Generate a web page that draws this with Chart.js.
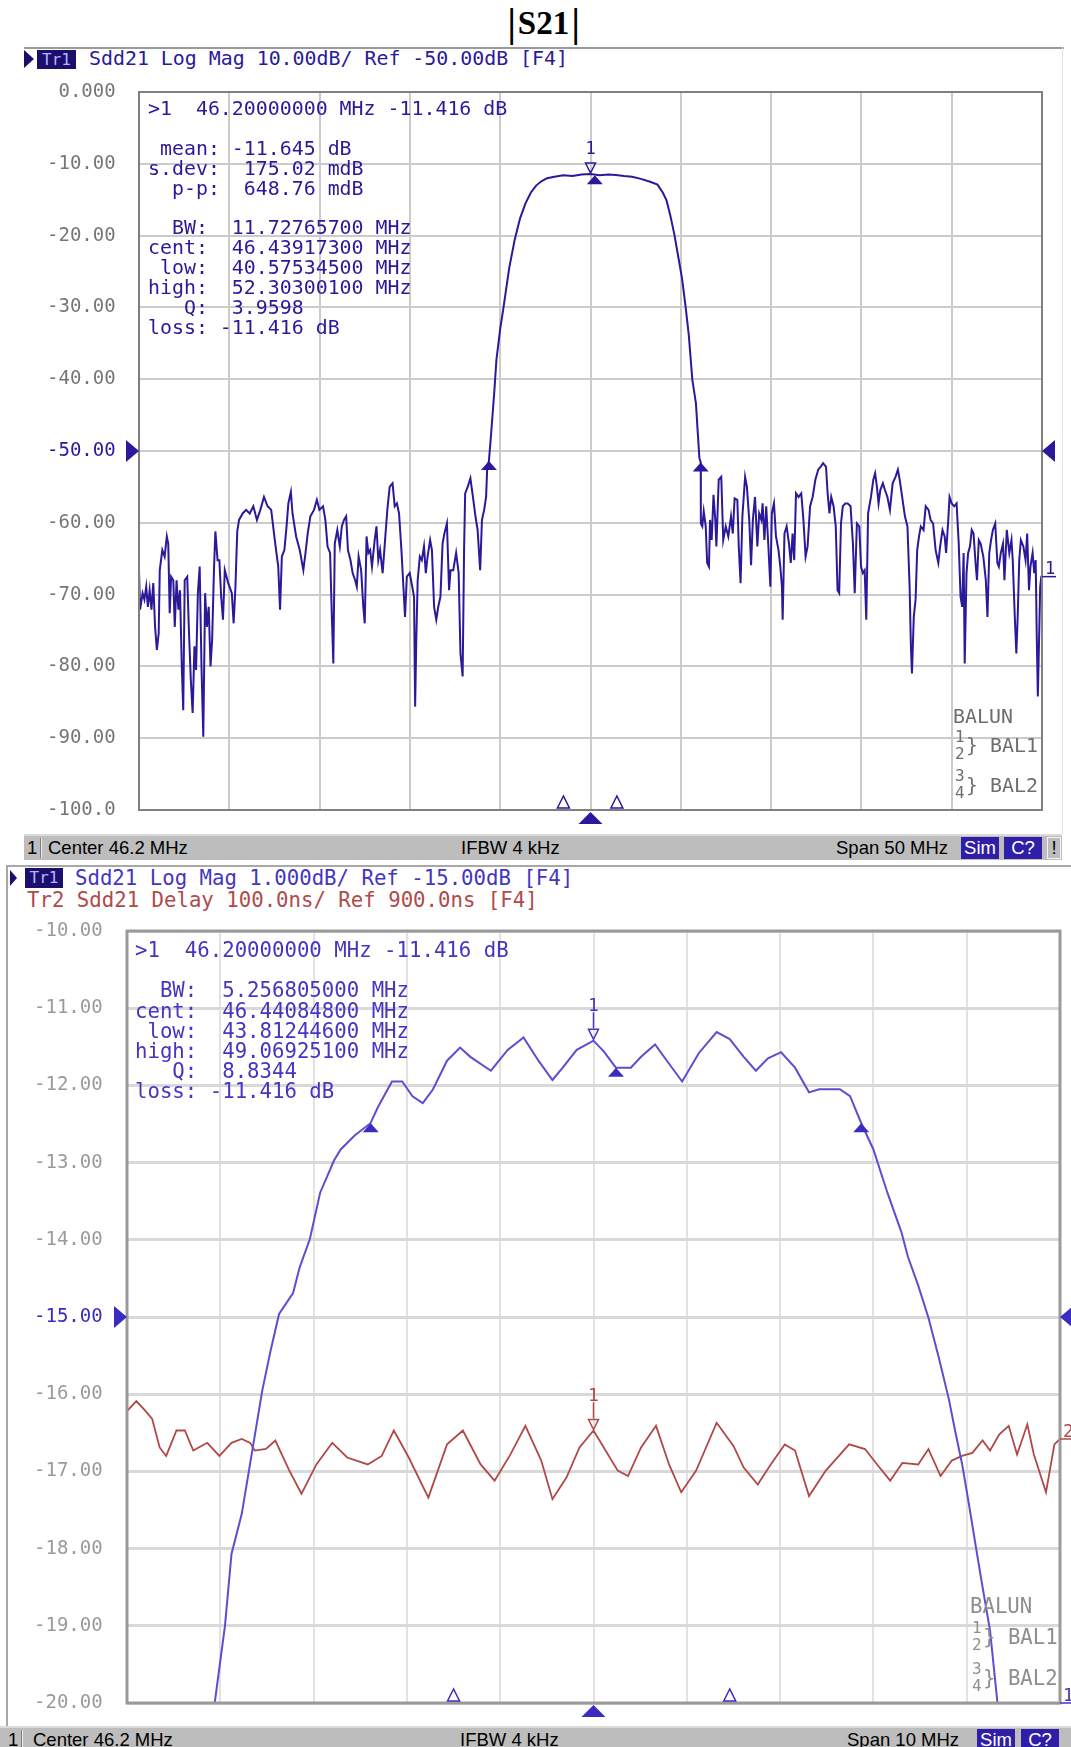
<!DOCTYPE html>
<html>
<head>
<meta charset="utf-8">
<title>|S21|</title>
<script src="https://cdn.jsdelivr.net/npm/chart.js@4.4.1/dist/chart.umd.min.js"></script>
<style>
  body { margin: 0; width: 1071px; height: 1747px; position: relative; overflow: hidden; background: #fff; }
  .abs { position: absolute; }
  .t { position: absolute; white-space: pre; font-family: 'DejaVu Sans Mono', monospace; }
  .top { font-size: 19.9px; line-height: 19.9px; color: #2a1a9a; }
  .bot { font-size: 20.7px; line-height: 20.2px; color: #4436c0; }
  .grayA { color: #6e6e6e; }
  .grayB { color: #8e8e8e; }
  .small { font-size: 16px; line-height: 17px; }
  .bar { position: absolute; background: #bdbdbd; border-top: 2px solid #dadada; overflow: hidden;
         font-family: 'Liberation Sans', Arial, sans-serif; font-size: 18.5px; color: #000; }
  .bar span { position: absolute; white-space: pre; }
  .tag { background: #2f1fa8; color: #fff; text-align: center; }
  .trbox { position: absolute; background: #1b0f6e; color: #b8b4ff; text-align: center;
           font-family: 'DejaVu Sans Mono', monospace; font-size: 16px; }
  .vbar { display: inline-block; transform: scale(1.15, 1.2); margin: 0 3px; }
</style>
</head>
<body>

<div class="abs" id="title" style="left:0;width:1087px;top:3px;text-align:center;font-family:'Liberation Serif',serif;font-weight:bold;font-size:33px;line-height:40px;"><span class="vbar">|</span>S21<span class="vbar">|</span></div>
<div class="abs" style="left:24px;top:47px;width:1040px;height:2px;background:#9a9a9a;"></div>
<div class="abs" style="left:1062px;top:47px;width:1px;height:787px;background:#e2e2e2;"></div>

<!-- header of the wide span trace -->
<div class="abs" style="left:24px;top:50px;width:0;height:0;border-left:10px solid #1b0f6e;border-top:9px solid transparent;border-bottom:9px solid transparent;"></div>
<div class="trbox" style="left:37px;top:50px;width:39px;height:19px;line-height:19px;">Tr1</div>
<div class="t top" style="left:89px;top:49px;">Sdd21 Log Mag 10.00dB/ Ref -50.00dB [F4]</div>

<div class="abs" style="left:24px;top:70px;"><canvas id="topChart" width="1038" height="763"></canvas></div>

<div class="t top" style="left:148px;top:99px;">&gt;1  46.20000000 MHz -11.416 dB

 mean: -11.645 dB
s.dev:  175.02 mdB
  p-p:  648.76 mdB

  BW:  11.72765700 MHz
cent:  46.43917300 MHz
 low:  40.57534500 MHz
high:  52.30300100 MHz
   Q:  3.9598
loss: -11.416 dB</div>

<div class="t top grayA" style="left:953px;top:707px;">BALUN</div>
<div class="t small grayA" style="left:955px;top:728px;">1
2</div>
<div class="t top grayA" style="left:966px;top:736px;">} BAL1</div>
<div class="t small grayA" style="left:955px;top:767px;">3
4</div>
<div class="t top grayA" style="left:966px;top:776px;">} BAL2</div>

<div class="bar" style="left:24px;top:834px;width:1038px;height:24px;line-height:24px;">
  <span style="left:3px;">1</span>
  <span style="left:16px;top:2px;width:1px;height:20px;background:#7a7a7a;border-right:1px solid #eee;"></span>
  <span style="left:24px;">Center 46.2 MHz</span>
  <span style="left:437px;">IFBW 4 kHz</span>
  <span style="left:812px;">Span 50 MHz</span>
  <span class="tag" style="left:937px;top:1px;width:38px;height:22px;line-height:22px;">Sim</span>
  <span class="tag" style="left:980px;top:1px;width:38px;height:22px;line-height:22px;">C?</span>
  <span style="left:1023px;top:1px;width:12px;height:20px;line-height:20px;border:1px solid #f4f4f4;text-align:center;">!</span>
</div>

<!-- zoomed span panel -->
<div class="abs" style="left:6px;top:865px;width:1065px;height:862px;border-left:2px solid #a8a8a8;border-top:2px solid #a8a8a8;"></div>
<div class="abs" style="left:10px;top:870px;width:0;height:0;border-left:7px solid #1b0f6e;border-top:8px solid transparent;border-bottom:8px solid transparent;"></div>
<div class="trbox" style="left:25px;top:868px;width:38px;height:20px;line-height:20px;">Tr1</div>
<div class="t bot" style="left:75px;top:868px;">Sdd21 Log Mag 1.000dB/ Ref -15.00dB [F4]</div>
<div class="t bot" style="left:27px;top:890px;color:#b04a4a;">Tr2 Sdd21 Delay 100.0ns/ Ref 900.0ns [F4]</div>

<div class="abs" style="left:8px;top:915px;"><canvas id="zoomChart" width="1063" height="810"></canvas></div>

<div class="t bot" style="left:135px;top:940px;">&gt;1  46.20000000 MHz -11.416 dB

  BW:  5.256805000 MHz
cent:  46.44084800 MHz
 low:  43.81244600 MHz
high:  49.06925100 MHz
   Q:  8.8344
loss: -11.416 dB</div>

<div class="t bot grayB" style="left:970px;top:1596px;">BALUN</div>
<div class="t small grayB" style="left:972px;top:1619px;">1
2</div>
<div class="t bot grayB" style="left:983px;top:1627px;">} BAL1</div>
<div class="t small grayB" style="left:972px;top:1660px;">3
4</div>
<div class="t bot grayB" style="left:983px;top:1668px;">} BAL2</div>

<div class="bar" style="left:0;top:1726px;width:1071px;height:24px;line-height:24px;">
  <span style="left:8px;">1</span>
  <span style="left:21px;top:2px;width:1px;height:20px;background:#7a7a7a;border-right:1px solid #eee;"></span>
  <span style="left:33px;">Center 46.2 MHz</span>
  <span style="left:460px;">IFBW 4 kHz</span>
  <span style="left:847px;">Span 10 MHz</span>
  <span class="tag" style="left:977px;top:1px;width:38px;height:22px;line-height:22px;">Sim</span>
  <span class="tag" style="left:1021px;top:1px;width:38px;height:22px;line-height:22px;">C?</span>
</div>

<script>
// ---- wide span: Sdd21 log mag, 21.2 .. 71.2 MHz ----
const topCenter = 46.2;
const topSpan = 50;
const topYLabels = [' 0.000', '-10.00', '-20.00', '-30.00', '-40.00', '-50.00', '-60.00', '-70.00', '-80.00', '-90.00', '-100.0'];

const topLowStopFreq = [21.20,21.26,21.40,21.50,21.60,21.69,21.79,21.89,21.99,22.09,
  22.19,22.29,22.35,22.49,22.62,22.74,22.82,22.90,22.98,23.10,
  23.18,23.28,23.38,23.47,23.57,23.65,23.73,23.87,23.97,24.07,
  24.17,24.27,24.36,24.46,24.56,24.66,24.76,24.86,24.96,25.06,
  25.16,25.25,25.35,25.43,25.55,25.65,25.75,25.85,25.95,26.14,
  26.34,26.44,26.54,26.64,26.74,26.94,27.13,27.33,27.53,27.73,
  27.92,28.12,28.32,28.52,28.72,28.81,28.91,29.01,29.11,29.25,
  29.37,29.47,29.61,29.70,29.90,30.10,30.30,30.42,30.54,30.69,
  30.89,31.05,31.19,31.39,31.52,31.64,31.78,31.88,31.96,32.04,
  32.18,32.32,32.43,32.55,32.67,32.77,32.91,33.03,33.17,33.26,
  33.36,33.50,33.62,33.70,33.80,33.90,34.00,34.10,34.25,34.35,
  34.45,34.55,34.69,34.81,34.95,35.08,35.24,35.36,35.48,35.60,
  35.74,35.84,35.93,36.03,36.19,36.33,36.43,36.49,36.55,36.63,
  36.75,36.86,36.98,37.08,37.18,37.32,37.42,37.54,37.66,37.77,
  37.89,38.01,38.11,38.25,38.37,38.45,38.60,38.76,38.90,39.00,
  39.12,39.20,39.26,39.40,39.55,39.69,39.83,39.95,40.09,40.19,
  40.31,40.42,40.48];
const topLowStopGain = [-66.6,-72.1,-69.8,-70.7,-68.9,-71.7,-69.4,-72.1,-68.4,-74.5,
  -77.7,-75.4,-66.6,-63.8,-64.7,-61.9,-62.9,-72.6,-67.5,-68.0,
  -74.5,-68.0,-72.1,-69.4,-80.0,-86.1,-68.0,-67.5,-75.4,-81.9,
  -86.5,-77.2,-80.5,-69.8,-66.1,-80.0,-89.8,-69.8,-74.5,-71.7,
  -80.0,-76.3,-66.6,-61.2,-65.2,-65.2,-70.3,-73.5,-66.6,-68.4,
  -69.8,-74.0,-68.9,-61.2,-59.6,-58.7,-58.2,-58.7,-57.7,-59.6,
  -58.2,-56.4,-57.7,-58.2,-62.4,-64.2,-66.1,-72.1,-64.7,-63.8,
  -60.5,-57.3,-55.7,-58.7,-61.9,-63.8,-66.6,-64.2,-61.5,-59.1,
  -58.2,-56.8,-58.2,-57.7,-59.6,-63.3,-64.2,-73.1,-79.6,-62.9,
  -61.0,-63.3,-60.5,-59.6,-59.1,-63.8,-65.2,-67.0,-68.0,-68.9,
  -64.7,-66.6,-71.7,-74.0,-61.9,-64.2,-63.8,-66.1,-62.4,-60.5,
  -65.2,-63.8,-67.0,-62.9,-58.2,-55.0,-54.5,-57.7,-57.3,-58.7,
  -64.2,-68.9,-73.1,-67.5,-67.0,-68.9,-70.3,-85.6,-76.8,-68.0,
  -64.7,-65.2,-63.3,-67.0,-64.7,-62.4,-63.8,-71.7,-73.5,-71.7,
  -70.3,-62.9,-61.5,-60.1,-69.4,-66.6,-66.6,-64.2,-67.0,-78.2,
  -81.4,-63.8,-55.9,-55.0,-53.8,-56.4,-59.1,-61.0,-66.6,-59.6,
  -58.2,-56.4,-52.4];

const topPassFreq = [40.575,40.70,40.88,40.99,41.20,41.39,41.70,42.00,42.30,42.60,
  42.90,43.20,43.50,43.80,44.20,44.70,45.20,45.70,46.20,46.70,
  47.20,47.60,48.06,48.50,48.99,49.50,49.91,50.20,50.41,50.62,
  50.84,51.05,51.27,51.46,51.64,51.84,52.04,52.13,52.23,52.303];
const topPassGain = [-51.4,-47.5,-41.5,-37.3,-33.0,-29.9,-24.5,-20.6,-17.6,-15.5,
  -14.0,-13.0,-12.4,-12.0,-11.8,-11.6,-11.7,-11.5,-11.42,-11.6,
  -11.5,-11.55,-11.7,-11.8,-12.1,-12.5,-12.9,-14.0,-15.1,-17.2,
  -19.8,-22.8,-26.0,-29.8,-33.8,-40.1,-43.4,-47.1,-51.0,-51.6];

const topHighStopFreq = [52.31,52.39,52.47,52.58,52.66,52.76,52.82,52.91,53.01,53.11,
  53.17,53.30,53.44,53.55,53.69,53.83,53.98,54.08,54.18,54.33,
  54.41,54.51,54.61,54.76,54.86,54.99,55.09,55.19,55.31,55.44,
  55.54,55.66,55.73,55.83,55.93,56.05,56.16,56.24,56.36,56.47,
  56.61,56.71,56.80,56.84,56.94,57.06,57.19,57.29,57.39,57.48,
  57.58,57.72,57.87,57.99,58.11,58.22,58.36,58.50,58.65,58.81,
  58.94,59.08,59.24,59.33,59.43,59.53,59.66,59.78,59.88,59.97,
  60.07,60.17,60.31,60.44,60.60,60.73,60.83,60.95,61.08,61.18,
  61.28,61.38,61.47,61.57,61.73,61.86,61.96,62.06,62.15,62.25,
  62.39,62.50,62.64,62.78,62.93,63.09,63.22,63.32,63.48,63.61,
  63.75,63.87,63.94,64.00,64.10,64.20,64.29,64.39,64.49,64.64,
  64.76,64.92,65.03,65.17,65.31,65.46,65.56,65.69,65.81,65.89,
  66.01,66.08,66.20,66.34,66.47,66.59,66.69,66.78,66.86,66.92,
  67.02,67.11,67.21,67.31,67.41,67.52,67.60,67.70,67.80,67.95,
  68.09,68.18,68.28,68.38,68.48,68.61,68.73,68.81,68.92,69.04,
  69.12,69.25,69.39,69.51,69.58,69.70,69.78,69.86,69.94,70.03,
  70.17,70.29,70.38,70.48,70.56,70.68,70.77,70.85,70.91,70.97,
  71.03,71.10,71.16,71.20];
const topHighStopGain = [-60.1,-60.5,-58.4,-60.5,-65.6,-66.1,-59.6,-62.4,-56.1,-59.6,
  -63.3,-54.0,-53.6,-62.4,-60.5,-61.9,-59.1,-61.5,-56.6,-56.8,
  -63.3,-68.4,-59.1,-53.6,-55.0,-59.6,-65.9,-59.6,-56.4,-63.3,
  -58.7,-59.6,-57.3,-62.4,-57.7,-63.3,-68.9,-58.7,-57.3,-61.9,
  -63.8,-66.1,-68.9,-73.5,-61.5,-60.5,-62.9,-65.6,-61.5,-65.2,
  -55.9,-56.4,-55.9,-59.6,-64.7,-63.3,-57.7,-56.4,-54.0,-52.6,
  -52.2,-51.7,-52.2,-55.9,-58.7,-56.4,-57.7,-60.5,-69.4,-69.8,
  -60.1,-57.7,-57.3,-57.3,-57.7,-62.9,-69.8,-60.1,-60.5,-66.1,
  -67.0,-66.6,-73.5,-58.7,-56.4,-54.0,-53.1,-55.0,-57.3,-55.4,
  -54.5,-55.4,-56.4,-58.2,-54.5,-53.6,-52.6,-54.0,-56.8,-59.1,
  -60.5,-68.9,-77.2,-81.0,-73.1,-70.7,-63.8,-61.9,-60.5,-61.0,
  -57.7,-58.2,-59.6,-60.1,-63.8,-65.6,-63.3,-61.0,-61.9,-64.2,
  -59.6,-56.4,-57.3,-57.7,-57.3,-62.9,-70.3,-71.7,-64.2,-79.6,
  -67.0,-64.2,-63.3,-61.0,-61.5,-65.6,-68.0,-62.4,-62.9,-64.7,
  -68.0,-73.1,-64.2,-62.4,-61.0,-60.1,-65.6,-66.1,-64.2,-62.9,
  -68.0,-61.0,-64.2,-62.4,-65.2,-73.5,-78.2,-72.6,-65.2,-62.4,
  -63.3,-65.2,-61.5,-69.4,-66.1,-64.2,-67.0,-65.2,-75.8,-84.2,
  -77.2,-68.9,-67.5,-67.5];

// bandwidth search markers (low, cent, high) and marker 1
const topSearchFreq = [40.575345, 46.439173, 52.303001];
const topSearchGain = [-51.4, -11.6, -51.6];
const topMarkerFreq = 46.2;
const topMarkerGain = -11.416;

// ---- zoomed span: 41.2 .. 51.2 MHz, log mag + group delay ----
const zoomCenter = 46.2;
const zoomSpan = 10;
const zoomYLabels = ['-10.00', '-11.00', '-12.00', '-13.00', '-14.00', '-15.00', '-16.00', '-17.00', '-18.00', '-19.00', '-20.00'];

const zoomGainFreq = [41.20,42.14,42.25,42.32,42.43,42.54,42.65,42.74,42.83,42.98,
  43.05,43.16,43.27,43.42,43.49,43.64,43.81,43.89,44.04,44.15,
  44.26,44.37,44.48,44.63,44.77,44.88,45.10,45.28,45.45,45.61,
  45.76,45.87,46.02,46.20,46.31,46.44,46.60,46.71,46.86,47.01,
  47.15,47.33,47.52,47.66,47.81,47.94,48.07,48.21,48.36,48.51,
  48.62,48.84,48.95,49.07,49.20,49.35,49.50,49.57,49.68,49.79,
  49.90,50.01,50.08,50.15,50.23,50.30,50.37,50.45,50.53,51.20];
const zoomGain = [-20.0,-20.0,-19.0,-18.07,-17.55,-16.75,-15.95,-15.43,-14.96,-14.69,
  -14.36,-13.99,-13.39,-12.97,-12.83,-12.65,-12.49,-12.28,-11.95,-11.95,
  -12.14,-12.23,-12.05,-11.68,-11.51,-11.63,-11.81,-11.54,-11.38,-11.68,
  -11.93,-11.77,-11.54,-11.42,-11.56,-11.77,-11.77,-11.63,-11.47,-11.72,
  -11.95,-11.58,-11.31,-11.40,-11.63,-11.81,-11.65,-11.57,-11.77,-12.09,
  -12.05,-12.05,-12.14,-12.49,-12.83,-13.39,-13.90,-14.22,-14.59,-15.01,
  -15.52,-16.07,-16.5,-16.9,-17.47,-17.99,-18.5,-19.06,-20.0,-20.0];

// group delay, ns (100 ns/div, 900 ns at the reference line)
const delayRef = 900;
const delayPerDiv = 100;
const delayFreq = [41.20,41.30,41.40,41.47,41.55,41.62,41.73,41.82,41.91,42.06,
  42.19,42.32,42.43,42.52,42.57,42.69,42.79,42.94,43.07,43.23,
  43.40,43.56,43.78,43.93,44.06,44.22,44.43,44.63,44.80,44.99,
  45.14,45.31,45.47,45.64,45.76,45.91,46.05,46.20,46.31,46.46,
  46.57,46.71,46.87,47.01,47.14,47.30,47.52,47.70,47.81,47.96,
  48.10,48.25,48.36,48.51,48.69,48.94,49.11,49.24,49.38,49.51,
  49.68,49.79,49.92,50.04,50.15,50.26,50.37,50.45,50.55,50.65,
  50.74,50.85,50.92,51.05,51.14,51.20];
const delayNs = [778,791,778,768,731,720,753,753,727,737,
  720,737,742,737,727,729,740,701,671,709,
  737,718,709,720,753,718,666,735,753,709,
  688,722,759,714,664,692,731,753,731,701,
  694,731,759,709,673,701,763,733,705,683,
  709,735,727,668,701,735,729,709,688,711,
  709,729,694,714,720,724,740,727,748,759,
  722,761,722,673,735,742];

const zoomSearchFreq = [43.812446, 46.440848, 49.069251];
const zoomSearchGain = [-12.49, -11.77, -12.49];
const zoomMarkerGain = -11.416;
const zoomMarkerDelay = 753;

// stimulus markers shown as open triangles on the bottom edge of both grids
const stimulusFreq = [44.7, 47.66];

function toPoints(xs, ys) {
  return xs.map((x, i) => ({ x: x, y: ys[i] }));
}

function gridTicks(center, span) {
  const start = center - span / 2;
  const ticks = [];
  for (let i = 0; i <= 10; i++) ticks.push({ value: start + i * span / 10 });
  return ticks;
}

function triangle(ctx, x1, y1, x2, y2, x3, y3, fill) {
  ctx.beginPath();
  ctx.moveTo(x1, y1);
  ctx.lineTo(x2, y2);
  ctx.lineTo(x3, y3);
  ctx.closePath();
  if (fill) ctx.fill(); else ctx.stroke();
}

// frame, reference arrows and the analyzer's marker symbols
const vnaMarks = {
  id: 'vnaMarks',
  afterDatasetsDraw(chart, args, o) {
    const { ctx, chartArea: a, scales } = chart;
    const xs = scales.x;
    ctx.save();
    ctx.strokeStyle = o.frameColor;
    ctx.lineWidth = o.frameWidth;
    ctx.strokeRect(a.left, a.top, a.right - a.left, a.bottom - a.top);

    ctx.fillStyle = o.color;
    const ry = scales.y.getPixelForValue(o.refLevel);
    triangle(ctx, a.left - 13, ry - 11, a.left - 13, ry + 11, a.left, ry, true);
    triangle(ctx, a.right + 13, ry - 11, a.right + 13, ry + 11, a.right, ry, true);

    const cx = xs.getPixelForValue(o.center);
    triangle(ctx, cx, a.bottom + 2, cx - 12, a.bottom + 14, cx + 12, a.bottom + 14, true);

    ctx.strokeStyle = o.color;
    ctx.lineWidth = 1.5;
    o.stimulus.forEach(f => {
      const px = xs.getPixelForValue(f);
      triangle(ctx, px, a.bottom - 14, px - 6, a.bottom - 2, px + 6, a.bottom - 2, false);
    });

    o.searchFreq.forEach((f, i) => {
      const px = xs.getPixelForValue(f);
      const py = scales.y.getPixelForValue(o.searchGain[i]);
      triangle(ctx, px, py, px - 8, py + 9, px + 8, py + 9, true);
    });

    ctx.font = o.font;
    ctx.textAlign = 'center';
    ctx.textBaseline = 'middle';
    o.markers.forEach(m => {
      const px = xs.getPixelForValue(m.f);
      const py = scales[m.axis].getPixelForValue(m.v);
      ctx.strokeStyle = m.color;
      ctx.fillStyle = m.color;
      ctx.lineWidth = 1.5;
      if (o.labelOffset > 26) {
        ctx.beginPath();
        ctx.moveTo(px, py - 12);
        ctx.lineTo(px, py - o.labelOffset + 6);
        ctx.stroke();
      }
      triangle(ctx, px, py - 1, px - 5, py - 11, px + 5, py - 11, false);
      ctx.fillText(m.label, px, py - o.labelOffset);
    });

    ctx.textAlign = 'left';
    o.ends.forEach(e => {
      const py = scales[e.axis].getPixelForValue(e.v);
      ctx.fillStyle = e.color;
      ctx.strokeStyle = e.color;
      ctx.lineWidth = 1.5;
      ctx.fillText(e.label, a.right + 3, py - 7);
      ctx.beginPath();
      ctx.moveTo(a.right, py);
      ctx.lineTo(a.right + 14, py);
      ctx.stroke();
    });
    ctx.restore();
  }
};

const topTraceColor = '#2a1a9a';
const topFreq = topLowStopFreq.concat(topPassFreq, topHighStopFreq);
const topGain = topLowStopGain.concat(topPassGain, topHighStopGain);

new Chart(document.getElementById('topChart'), {
  type: 'line',
  data: {
    datasets: [{
      data: toPoints(topFreq, topGain),
      borderColor: topTraceColor,
      borderWidth: 2,
      pointRadius: 0,
      tension: 0
    }]
  },
  options: {
    responsive: false,
    animation: false,
    devicePixelRatio: 1,
    layout: { padding: { left: 23, right: 20, top: 22, bottom: 23 } },
    scales: {
      x: {
        type: 'linear',
        min: topCenter - topSpan / 2,
        max: topCenter + topSpan / 2,
        afterBuildTicks: s => { s.ticks = gridTicks(topCenter, topSpan); },
        afterFit: s => { s.height = 0; },
        ticks: { display: false },
        grid: { color: '#cbcbcb', lineWidth: 2, drawTicks: false },
        border: { display: false }
      },
      y: {
        min: -100,
        max: 0,
        afterFit: s => { s.width = 92; },
        ticks: {
          stepSize: 10,
          padding: 0,
          crossAlign: 'far',
          font: { family: 'DejaVu Sans Mono', size: 19 },
          color: c => (c.tick && c.tick.value === -50) ? topTraceColor : '#767676',
          callback: v => topYLabels[Math.round(-v / 10)]
        },
        grid: { color: '#cbcbcb', lineWidth: 2, drawTicks: false },
        border: { display: false }
      }
    },
    plugins: {
      legend: { display: false },
      tooltip: { enabled: false },
      vnaMarks: {
        frameColor: '#808080',
        frameWidth: 2,
        color: topTraceColor,
        refLevel: -50,
        center: topCenter,
        stimulus: stimulusFreq,
        searchFreq: topSearchFreq,
        searchGain: topSearchGain,
        font: '17px "DejaVu Sans Mono"',
        labelOffset: 24,
        markers: [{ axis: 'y', f: topMarkerFreq, v: topMarkerGain, label: '1', color: topTraceColor }],
        ends: [{ axis: 'y', v: topHighStopGain[topHighStopGain.length - 1], label: '1', color: topTraceColor }]
      }
    }
  },
  plugins: [vnaMarks]
});

const zoomTraceColor = '#5b4fd0';
const delayColor = '#b04848';

new Chart(document.getElementById('zoomChart'), {
  type: 'line',
  data: {
    datasets: [{
      data: toPoints(zoomGainFreq, zoomGain),
      borderColor: zoomTraceColor,
      borderWidth: 2,
      pointRadius: 0,
      tension: 0,
      yAxisID: 'y'
    }, {
      data: toPoints(delayFreq, delayNs),
      borderColor: delayColor,
      borderWidth: 1.8,
      pointRadius: 0,
      tension: 0,
      yAxisID: 'y2'
    }]
  },
  options: {
    responsive: false,
    animation: false,
    devicePixelRatio: 1,
    layout: { padding: { left: 26, right: 11, top: 16, bottom: 22 } },
    scales: {
      x: {
        type: 'linear',
        min: zoomCenter - zoomSpan / 2,
        max: zoomCenter + zoomSpan / 2,
        afterBuildTicks: s => { s.ticks = gridTicks(zoomCenter, zoomSpan); },
        afterFit: s => { s.height = 0; },
        ticks: { display: false },
        grid: { color: '#e2e2e2', lineWidth: 2, drawTicks: false },
        border: { display: false }
      },
      y: {
        min: -20,
        max: -10,
        afterFit: s => { s.width = 93; },
        ticks: {
          stepSize: 1,
          padding: 0,
          crossAlign: 'far',
          font: { family: 'DejaVu Sans Mono', size: 19 },
          color: c => (c.tick && c.tick.value === -15) ? '#3a2cc0' : '#9a9a9a',
          callback: v => zoomYLabels[Math.round(-10 - v)]
        },
        grid: { color: '#d9d9d9', lineWidth: 3, drawTicks: false },
        border: { display: false }
      },
      y2: {
        display: false,
        position: 'right',
        min: delayRef - 5 * delayPerDiv,
        max: delayRef + 5 * delayPerDiv
      }
    },
    plugins: {
      legend: { display: false },
      tooltip: { enabled: false },
      vnaMarks: {
        frameColor: '#9a9a9a',
        frameWidth: 3,
        color: '#3a2cc0',
        refLevel: -15,
        center: zoomCenter,
        stimulus: stimulusFreq,
        searchFreq: zoomSearchFreq,
        searchGain: zoomSearchGain,
        font: '18px "DejaVu Sans Mono"',
        labelOffset: 34,
        markers: [
          { axis: 'y', f: zoomCenter, v: zoomMarkerGain, label: '1', color: '#4436c0' },
          { axis: 'y2', f: zoomCenter, v: zoomMarkerDelay, label: '1', color: delayColor }
        ],
        ends: [
          { axis: 'y', v: zoomGain[zoomGain.length - 1], label: '1', color: '#4436c0' },
          { axis: 'y2', v: delayNs[delayNs.length - 1], label: '2', color: delayColor }
        ]
      }
    }
  },
  plugins: [vnaMarks]
});
</script>
</body>
</html>
